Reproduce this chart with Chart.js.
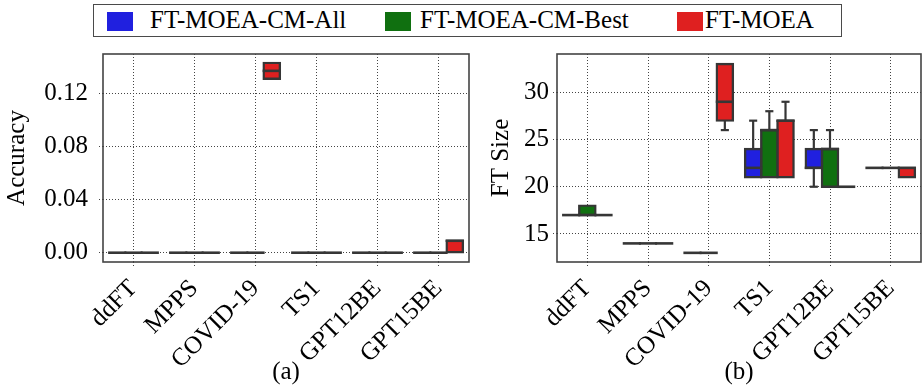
<!DOCTYPE html>
<html>
<head>
<meta charset="utf-8">
<script src="https://cdn.jsdelivr.net/npm/chart.js@4.4.1/dist/chart.umd.min.js"></script>
<style>
  html, body { margin: 0; padding: 0; background: #fff; }
  body { width: 922px; height: 389px; position: relative; overflow: hidden;
         font-family: "Liberation Serif", "Times New Roman", serif; }
  canvas { position: absolute; top: 0; }
  #accChart { left: 0; }
  #sizeChart { left: 475px; }
  .legend-box { position: absolute; left: 93px; top: 4px; width: 749px; height: 33px;
                box-sizing: border-box; border: 1.5px solid #4a4a4a; background: #fff; }
  .swatch { position: absolute; top: 12px; width: 26px; height: 19px; }
  .label { position: absolute; top: 7px; font-size: 25px; line-height: 25px; color: #000; white-space: nowrap; }
</style>
</head>
<body>
<div class="legend-box"></div>
<div id="legend"></div>
<canvas id="accChart" width="475" height="389"></canvas>
<canvas id="sizeChart" width="447" height="389"></canvas>
<script>
// Datasets shown on both panels
const categories = ['ddFT', 'MPPS', 'COVID-19', 'TS1', 'GPT12BE', 'GPT15BE'];
const seriesNames = ['FT-MOEA-CM-All', 'FT-MOEA-CM-Best', 'FT-MOEA'];
const seriesColors = ['#2020df', '#107010', '#df2020'];

// Five-number summaries per category: [low whisker, q1, median, q3, high whisker]
const accuracyAll  = [[0,0,0,0,0], [0,0,0,0,0], [0,0,0,0,0], [0,0,0,0,0], [0,0,0,0,0], [0,0,0,0,0]];
const accuracyBest = [[0,0,0,0,0], [0,0,0,0,0], [0,0,0,0,0], [0,0,0,0,0], [0,0,0,0,0], [0,0,0,0,0]];
const accuracyMoea = [[0,0,0,0,0], [0,0,0,0,0], [0.131,0.131,0.137,0.143,0.143], [0,0,0,0,0], [0,0,0,0,0], [0,0,0.009,0.009,0.009]];

const sizeAll  = [[17,17,17,17,17], [14,14,14,14,14], [13,13,13,13,13], [21,21,22,24,27], [20,22,22,24,26], [22,22,22,22,22]];
const sizeBest = [[17,17,17,18,18], [14,14,14,14,14], [13,13,13,13,13], [21,21,26,26,28], [20,20,24,24,26], [22,22,22,22,22]];
const sizeMoea = [[17,17,17,17,17], [14,14,14,14,14], [26,27,29,33,33], [21,21,27,27,29], [20,20,20,20,20], [21,21,22,22,22]];

const accuracyTicks = [0, 0.04, 0.08, 0.12];
const sizeTicks = [15, 20, 25, 30];

const EDGE = '#363636';
const FONT = '"Liberation Serif", "Times New Roman", serif';

// Legend spanning both panels
const legendItems = [
  { swatchX: 107, textX: 150 },
  { swatchX: 385, textX: 420 },
  { swatchX: 677, textX: 705 }
];
const legendEl = document.getElementById('legend');
seriesNames.forEach((name, i) => {
  const sw = document.createElement('div');
  sw.className = 'swatch';
  sw.style.left = legendItems[i].swatchX + 'px';
  sw.style.background = seriesColors[i];
  legendEl.appendChild(sw);
  const tx = document.createElement('div');
  tx.className = 'label';
  tx.style.left = legendItems[i].textX + 'px';
  tx.textContent = name;
  legendEl.appendChild(tx);
});

// Whiskers, caps and medians drawn on top of the floating-bar boxes
const boxWhiskers = {
  id: 'boxWhiskers',
  afterDatasetsDraw(chart) {
    const ctx = chart.ctx;
    const y = chart.scales.y;
    ctx.save();
    ctx.strokeStyle = EDGE;
    ctx.lineCap = 'butt';
    const seg = (x1, y1, x2, y2) => { ctx.beginPath(); ctx.moveTo(x1, y1); ctx.lineTo(x2, y2); ctx.stroke(); };
    chart.data.datasets.forEach((ds, i) => {
      const meta = chart.getDatasetMeta(i);
      meta.data.forEach((bar, j) => {
        const s = ds.summaries[j];
        const half = bar.width / 2;
        const pLo = y.getPixelForValue(s[0]);
        const pQ1 = y.getPixelForValue(s[1]);
        const pMed = y.getPixelForValue(s[2]);
        const pQ3 = y.getPixelForValue(s[3]);
        const pHi = y.getPixelForValue(s[4]);
        ctx.lineWidth = 2.2;
        if (s[0] < s[1]) {
          seg(bar.x, pQ1, bar.x, pLo);
          seg(bar.x - half / 2, pLo, bar.x + half / 2, pLo);
        }
        if (s[4] > s[3]) {
          seg(bar.x, pQ3, bar.x, pHi);
          seg(bar.x - half / 2, pHi, bar.x + half / 2, pHi);
        }
        ctx.lineWidth = 2.6;
        seg(bar.x - half - 1, pMed, bar.x + half + 1, pMed);
      });
    });
    ctx.restore();
  },
  afterDraw(chart) {
    const a = chart.chartArea;
    const ctx = chart.ctx;
    ctx.save();
    ctx.strokeStyle = '#444';
    ctx.lineWidth = 1.6;
    ctx.strokeRect(a.left, a.top, a.right - a.left, a.bottom - a.top);
    ctx.restore();
  }
};

function makeChart(id, summaries, cfg) {
  const datasets = summaries.map((summ, i) => ({
    label: seriesNames[i],
    data: summ.map(s => [s[1], s[3]]),
    summaries: summ,
    backgroundColor: seriesColors[i],
    borderColor: EDGE,
    borderWidth: 2.4,
    borderSkipped: false,
    inflateAmount: 1.2,
    categoryPercentage: 0.8,
    barPercentage: 1
  }));
  return new Chart(document.getElementById(id), {
    type: 'bar',
    data: { labels: categories, datasets },
    plugins: [boxWhiskers],
    options: {
      responsive: false,
      animation: false,
      devicePixelRatio: 1,
      layout: { padding: { top: 54, bottom: 0, left: cfg.padLeft, right: cfg.padRight } },
      plugins: { legend: { display: false }, tooltip: { enabled: false } },
      scales: {
        x: {
          type: 'category',
          offset: true,
          grid: { offset: false, color: '#444', lineWidth: 1, tickLength: 5, tickBorderDash: [1, 2] },
          border: { display: false, dash: [1, 2] },
          ticks: { color: '#000', font: { family: FONT, size: 25 }, maxRotation: 45, minRotation: 45, padding: 7 },
          title: { display: true, text: cfg.caption, color: '#000', font: { family: FONT, size: 25 }, padding: { top: 0, bottom: 2 } },
          afterFit(scale) { scale.height = 127; }
        },
        y: {
          type: 'linear',
          min: cfg.min,
          max: cfg.max,
          grid: { color: '#444', lineWidth: 1, tickLength: 4, tickBorderDash: [1, 2] },
          border: { display: false, dash: [1, 2] },
          ticks: {
            color: '#000', font: { family: FONT, size: 25 }, padding: cfg.tickPad,
            callback: v => v.toFixed(cfg.decimals)
          },
          afterBuildTicks(scale) { scale.ticks = cfg.ticks.map(v => ({ value: v })); },
          title: { display: true, text: cfg.yTitle, color: '#000', font: { family: FONT, size: 25 }, padding: { top: 2, bottom: 0 } },
          afterFit(scale) { scale.width = cfg.axisWidth; }
        }
      }
    }
  });
}

makeChart('accChart', [accuracyAll, accuracyBest, accuracyMoea], {
  min: -0.007, max: 0.1497, ticks: accuracyTicks, decimals: 2,
  yTitle: 'Accuracy', caption: '(a)', axisWidth: 103, padLeft: 0, padRight: 6, tickPad: 11
});
makeChart('sizeChart', [sizeAll, sizeBest, sizeMoea], {
  min: 12.03, max: 34.06, ticks: sizeTicks, decimals: 0,
  yTitle: 'FT Size', caption: '(b)', axisWidth: 73, padLeft: 9, padRight: 1, tickPad: 4
});
</script>
</body>
</html>
